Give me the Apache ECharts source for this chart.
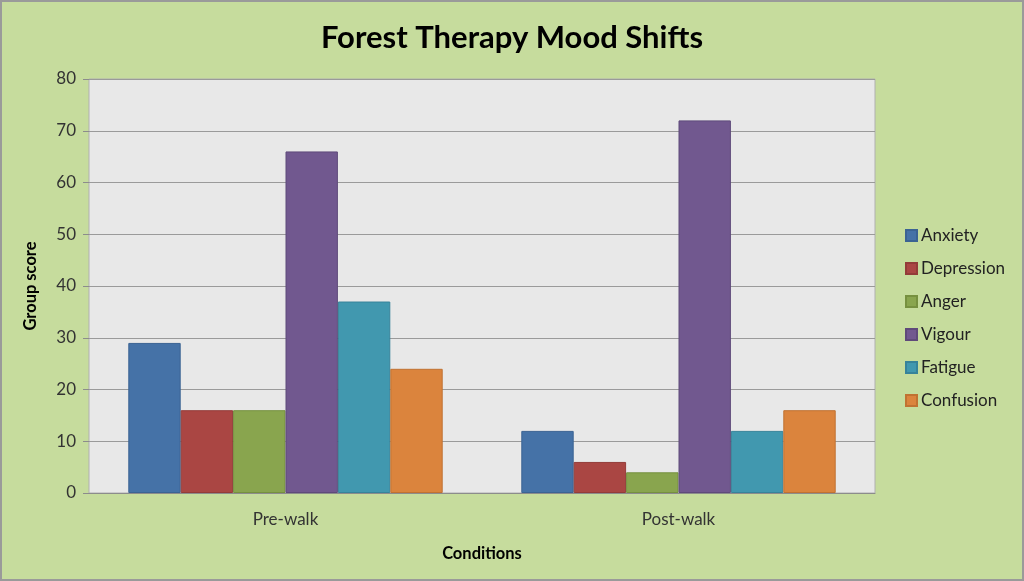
<!DOCTYPE html>
<html>
<head>
<meta charset="utf-8">
<script src="https://cdn.jsdelivr.net/npm/echarts@6/dist/echarts.min.js"></script>
<style>
  html, body { margin: 0; padding: 0; background: #c6dc9d; }
  #chart { width: 1024px; height: 581px; box-sizing: border-box; border: 2px solid #9a9a9a; }
</style>
</head>
<body>
<div id="chart"></div>
<script>
// chart data
var conditions = ['Pre-walk', 'Post-walk'];
var moods = ['Anxiety', 'Depression', 'Anger', 'Vigour', 'Fatigue', 'Confusion'];
var anxiety = [29, 12];
var depression = [16, 6];
var anger = [16, 4];
var vigour = [66, 72];
var fatigue = [37, 12];
var confusion = [24, 16];
var yTicks = [0, 10, 20, 30, 40, 50, 60, 70, 80];

var colours = ['#4572a7', '#aa4643', '#89a54e', '#71588f', '#4198af', '#db843d'];
var borders = ['#3b6393', '#933c39', '#76903f', '#5f4a7a', '#37839a', '#c07232'];
var values = [anxiety, depression, anger, vigour, fatigue, confusion];

var font = 'Lato, "Open Sans", sans-serif';

var chart = echarts.init(document.getElementById('chart'));

var series = [];
for (var i = 0; i < moods.length; i++) {
  series.push({
    name: moods[i],
    type: 'bar',
    data: values[i],
    barGap: '0%',
    barCategoryGap: '20%',
    itemStyle: { color: colours[i], borderColor: borders[i], borderWidth: 1 }
  });
}

chart.setOption({
  backgroundColor: '#c6dc9d',
  textStyle: { fontFamily: font },
  title: {
    text: 'Forest Therapy Mood Shifts',
    left: 'center',
    top: 15,
    textStyle: { fontSize: 31, fontWeight: 'bold', color: '#000', fontFamily: font }
  },
  legend: {
    orient: 'vertical',
    left: 898,
    top: 220,
    itemWidth: 11,
    itemHeight: 11,
    itemGap: 16,
    icon: 'rect',
    textStyle: { fontSize: 17, color: '#222', fontFamily: font, padding: [0, 0, 0, -1] }
  },
  grid: { left: 87, top: 77, right: 147, bottom: 86, show: true, backgroundColor: '#e8e8e8', borderColor: '#b0b0b0', borderWidth: 1 },
  xAxis: {
    type: 'category',
    data: conditions,
    name: 'Conditions',
    nameLocation: 'middle',
    nameGap: 52,
    nameTextStyle: { fontSize: 16.5, fontWeight: 'bold', color: '#000' },
    axisLine: { lineStyle: { color: '#8c8c8c' } },
    axisTick: { show: false },
    axisLabel: { fontSize: 17, color: '#333', margin: 18 }
  },
  yAxis: {
    type: 'value',
    min: yTicks[0],
    max: yTicks[yTicks.length - 1],
    interval: 10,
    name: 'Group score',
    nameLocation: 'middle',
    nameGap: 50,
    nameTextStyle: { fontSize: 16.5, fontWeight: 'bold', color: '#000' },
    axisLine: { show: false },
    axisTick: { show: true, length: 6, lineStyle: { color: '#8c8c8c' } },
    axisLabel: { fontSize: 17, color: '#333', margin: 13 },
    splitLine: { lineStyle: { color: '#9a9a9a', width: 1 } }
  },
  series: series
});
</script>
</body>
</html>
